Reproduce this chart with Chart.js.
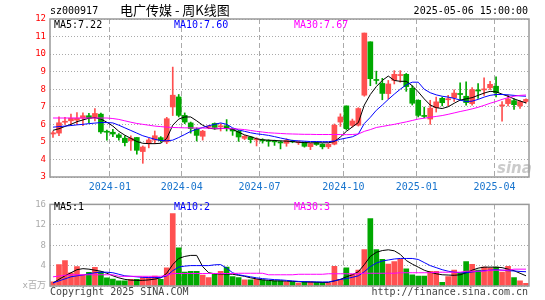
<!DOCTYPE html>
<html lang="zh-CN">
<head>
<meta charset="UTF-8">
<title>电广传媒 - 周K线图</title>
<script src="https://cdn.jsdelivr.net/npm/chart.js"></script>
<style>
  body { margin: 0; background: #fff; }
  #box { position: relative; width: 545px; height: 300px; overflow: hidden;
         font-family: "DejaVu Sans Mono", monospace; font-size: 10px; line-height: 1; }
  #box canvas { position: absolute; left: 0; }
  #kline { top: 0; }
  #vol { top: 195px; }
  .t { position: absolute; white-space: nowrap; }
</style>
</head>
<body>
<div id="box">
  <canvas id="kline" width="545" height="195"></canvas>
  <canvas id="vol" width="545" height="105"></canvas>

  <span class="t" style="left:50px;top:6px">sz000917</span>
  <span class="t" style="left:120px;top:3px;font-family:'Noto Sans CJK SC',sans-serif;font-size:13px">电广传媒 - 周K线图</span>
  <span class="t" style="right:17px;top:6px">2025-05-06 15:00:00</span>

  <span class="t" style="left:54px;top:19.5px;color:#000">MA5:7.22</span>
  <span class="t" style="left:174px;top:19.5px;color:#0000ff">MA10:7.60</span>
  <span class="t" style="left:294px;top:19.5px;color:#ff00ff">MA30:7.67</span>
  <span class="t" style="left:497px;top:159px;font:italic bold 15px 'DejaVu Sans',sans-serif;color:rgba(160,160,160,0.55)">sina</span>

  <span class="t" style="left:54px;top:202px;color:#000">MA5:1</span>
  <span class="t" style="left:174px;top:202px;color:#0000ff">MA10:2</span>
  <span class="t" style="left:294px;top:202px;color:#ff00ff">MA30:3</span>

  <span class="t" style="left:50px;top:286.5px;color:#444">Copyright 2025 SINA.COM</span>
  <span class="t" style="right:17px;top:286.5px;color:#444">http://finance.sina.com.cn</span>
</div>

<script>
  // weekly candles, oldest first (80 weeks up to 2025-05-06)
  const opens = [5.45,5.50,6.12,6.20,6.24,6.35,6.49,6.39,6.58,5.60,
    5.55,5.40,5.21,5.06,5.25,4.45,4.90,5.10,5.24,5.00,
    6.99,7.56,6.51,6.08,5.74,5.32,5.85,6.05,5.86,5.92,
    5.75,5.62,5.20,5.28,5.11,5.10,5.06,5.05,4.97,4.92,
    5.05,4.95,4.98,4.73,4.95,4.87,4.72,4.87,6.13,7.05,
    5.94,5.95,7.66,10.70,8.55,8.33,7.75,8.50,8.78,8.85,
    8.05,7.37,6.50,6.30,6.95,7.48,7.40,7.52,7.72,7.60,
    7.18,7.95,7.96,8.08,8.17,7.05,7.18,7.35,7.05,7.30];
  const closes = [5.52,6.09,6.15,6.35,6.35,6.49,6.36,6.62,5.57,5.55,
    5.45,5.25,4.96,5.21,4.52,4.71,5.11,5.35,5.08,6.32,
    7.66,6.51,6.13,5.76,5.37,5.61,5.87,5.82,5.90,5.75,
    5.62,5.28,5.32,5.13,5.14,5.06,5.03,5.00,4.94,5.08,
    5.00,5.00,4.75,4.90,4.85,4.72,4.87,5.95,6.42,5.75,
    6.19,6.90,11.20,8.60,8.50,7.76,8.30,8.85,8.82,8.15,
    7.20,6.51,6.45,6.92,7.28,7.23,7.45,7.78,7.70,7.24,
    7.98,7.90,8.00,8.28,7.80,7.10,7.45,7.12,7.30,7.42];
  const highs = [5.62,6.43,6.40,6.58,6.67,6.65,6.62,6.90,6.64,5.67,
    5.72,5.48,5.34,5.34,5.25,4.77,5.20,5.62,5.30,6.40,
    9.26,7.70,6.65,6.13,5.80,5.66,5.94,6.08,6.04,6.27,
    5.77,5.66,5.37,5.32,5.24,5.18,5.12,5.10,5.06,5.18,
    5.10,5.05,5.00,4.92,5.00,4.90,4.90,6.02,6.60,7.05,
    6.30,6.95,11.20,10.70,9.03,8.62,8.50,9.06,9.06,8.90,
    8.20,7.40,6.98,7.37,7.55,7.55,7.65,7.97,8.36,8.42,
    8.10,8.32,8.65,8.45,8.70,7.30,7.66,7.45,7.35,7.45];
  const lows = [5.25,5.35,6.00,6.00,6.00,5.92,6.10,6.20,5.48,5.10,
    5.30,5.10,4.77,4.52,4.30,3.78,4.66,4.90,4.98,4.90,
    6.50,6.42,6.04,5.50,5.05,5.10,5.75,5.72,5.62,5.62,
    5.37,5.03,5.13,4.94,4.77,4.93,4.75,4.80,4.60,4.75,
    4.95,4.85,4.70,4.56,4.80,4.60,4.62,4.83,5.88,5.68,
    5.85,5.90,7.60,8.20,8.30,7.40,7.45,8.30,8.40,7.88,
    7.10,6.42,6.37,6.00,6.70,7.05,7.05,7.30,7.37,7.09,
    7.09,7.47,7.65,7.98,7.56,6.18,7.05,6.85,6.90,7.20];

  const ma5 = [5.66,5.75,5.88,6.0,6.15,6.25,6.35,6.38,6.3,6.12,
    5.9,5.6,5.38,5.2,5.02,4.92,4.9,4.9,4.92,5.2,
    5.95,6.3,6.42,6.42,6.2,5.95,5.78,5.74,5.76,5.78,
    5.72,5.55,5.4,5.3,5.18,5.12,5.1,5.08,5.06,5.04,
    5.02,4.98,4.96,4.95,4.95,4.95,4.95,5.02,5.28,5.6,
    5.85,6.1,7.1,7.7,8.15,8.5,8.75,8.5,8.45,8.45,
    8.2,7.85,7.45,7.1,6.95,6.9,7.0,7.2,7.38,7.45,
    7.52,7.65,7.78,7.88,7.85,7.72,7.6,7.45,7.33,7.22];
  const ma10 = [5.84,5.87,5.9,5.93,5.97,6.0,6.04,6.07,6.1,6.1,
    6.08,5.95,5.8,5.65,5.5,5.35,5.25,5.15,5.08,5.06,
    5.1,5.25,5.42,5.6,5.72,5.82,5.92,6.0,6.08,6.0,
    5.8,5.68,5.6,5.52,5.46,5.42,5.37,5.3,5.22,5.15,
    5.08,5.06,5.04,5.02,5.02,5.01,5.01,5.05,5.15,5.22,
    5.29,5.45,6.05,6.4,6.8,7.1,7.42,7.72,8.0,8.25,
    8.4,8.4,8.0,7.8,7.68,7.6,7.55,7.48,7.38,7.3,
    7.32,7.42,7.55,7.65,7.7,7.7,7.68,7.65,7.62,7.6];
  const ma30 = [6.36,6.36,6.36,6.36,6.36,6.36,6.36,6.36,6.36,6.36,
    6.33,6.28,6.2,6.12,6.05,6.0,5.95,5.9,5.87,5.84,
    5.82,5.81,5.8,5.8,5.79,5.79,5.78,5.78,5.77,5.76,
    5.75,5.73,5.7,5.65,5.6,5.56,5.52,5.5,5.48,5.46,
    5.45,5.44,5.43,5.43,5.42,5.42,5.42,5.42,5.42,5.41,
    5.42,5.45,5.6,5.7,5.82,5.88,5.94,6.0,6.07,6.14,
    6.22,6.3,6.35,6.4,6.45,6.5,6.57,6.65,6.73,6.8,
    6.88,6.97,7.08,7.2,7.3,7.42,7.52,7.6,7.65,7.67];

  // volume, millions of shares
  const vols = [0.8,4.2,5.0,2.6,3.8,2.2,2.7,3.65,2.8,1.6,
    1.35,1.0,1.0,1.33,1.33,1.65,1.65,1.96,1.33,3.54,
    14.2,7.5,2.72,2.9,2.9,2.15,1.65,2.28,2.9,3.73,
    1.84,1.65,1.2,1.2,1.33,1.2,1.0,1.0,1.0,0.82,
    0.82,0.57,0.82,0.82,0.7,0.7,0.57,3.86,1.33,3.54,
    2.28,3.1,7.15,13.2,7.15,5.25,4.3,4.8,5.25,3.35,
    2.2,1.96,1.96,2.9,2.9,0.7,1.84,3.1,2.6,4.8,
    4.24,3.1,3.73,3.54,3.73,2.72,3.86,1.65,1.0,0.5];
  const vma5 = [0.6,1.3,2.0,2.6,3.2,3.4,3.3,3.1,2.9,2.5,
    2.0,1.6,1.3,1.15,1.1,1.1,1.2,1.35,1.6,2.5,
    4.2,5.4,5.8,6.0,6.0,3.8,2.6,2.4,2.35,2.35,
    2.3,2.1,1.9,1.6,1.4,1.2,1.1,1.0,1.0,0.95,
    0.9,0.85,0.8,0.78,0.75,0.7,0.7,1.0,1.3,1.8,
    2.2,2.8,4.2,5.8,6.6,6.95,7.1,6.9,6.2,5.0,
    4.3,3.7,3.1,2.7,2.4,2.2,2.15,2.1,2.2,2.6,
    3.1,3.5,3.7,3.7,3.7,3.6,3.3,3.0,2.5,2.0];
  const vma10 = [0.6,1.0,1.4,1.8,2.0,2.15,2.4,2.6,2.7,2.7,
    2.6,2.3,2.0,1.9,1.8,1.7,1.65,1.65,1.65,2.0,
    3.0,3.7,3.9,4.0,4.0,4.0,4.0,4.15,4.2,3.5,
    2.6,2.2,2.0,1.8,1.6,1.45,1.35,1.25,1.2,1.1,
    1.0,0.9,0.85,0.82,0.8,0.78,0.8,1.0,1.3,1.45,
    1.7,2.0,2.8,3.8,4.5,4.9,5.1,5.3,5.4,5.4,
    5.4,5.2,4.6,4.0,3.6,3.2,2.9,2.7,2.6,2.6,
    2.75,2.9,3.0,3.1,3.2,3.1,3.0,2.95,2.85,2.8];
  const vma30 = [1.8,1.95,2.1,2.2,2.2,2.2,2.2,2.2,2.2,2.2,
    2.2,1.9,1.9,1.9,1.9,1.9,1.9,1.9,1.9,2.1,
    2.45,2.45,2.45,2.45,2.45,2.45,2.45,2.45,2.45,2.45,
    2.45,2.5,2.5,2.5,2.5,2.5,2.2,2.2,2.2,2.2,
    2.2,2.3,2.3,2.3,2.3,2.3,2.4,2.4,2.4,2.4,
    2.4,2.4,2.5,2.5,2.5,2.5,2.5,2.5,2.6,2.6,
    2.6,2.6,2.6,2.6,2.7,2.7,2.7,2.7,2.7,2.9,
    2.9,2.9,2.9,3.1,3.1,3.1,3.1,3.3,3.3,3.3];

  // month ticks: week index where the dashed line sits
  const tickLabels = ['2024-01', '2024-04', '2024-07', '2024-10', '2025-01', '2025-04'];
  const tickPos = [9.5, 21.5, 34.5, 48.5, 60.75, 73.75];

  const RED = '#ff5050', GREEN = '#00a800';
  const colors = closes.map((c, i) => c >= opens[i] ? RED : GREEN);
  const pts = arr => arr.map((v, i) => ({ x: i, y: v }));
  const mono = { family: 'DejaVu Sans Mono', size: 9 };

  const frame = {
    id: 'frame',
    afterDraw(chart) {
      const { ctx, chartArea: a } = chart;
      ctx.save();
      ctx.strokeStyle = '#999';
      ctx.lineWidth = 1.5;
      ctx.strokeRect(a.left, a.top, a.right - a.left, a.bottom - a.top);
      ctx.restore();
    }
  };

  function xAxis(showLabels, height) {
    return {
      type: 'linear', min: -0.5, max: 79.5, offset: false, bounds: 'data',
      afterBuildTicks: s => { s.ticks = tickPos.map(v => ({ value: v })); },
      afterFit: s => { s.height = height; },
      grid: { color: '#aaa', drawTicks: false, offset: false },
      border: { display: false, dash: [5, 3] },
      ticks: {
        display: showLabels, autoSkip: false, maxRotation: 0, padding: 4,
        color: '#1874cd', font: { family: 'DejaVu Sans Mono', size: 10 },
        callback: (v, i) => tickLabels[i]
      }
    };
  }

  function maLine(arr, color) {
    return { type: 'line', data: pts(arr), borderColor: color, borderWidth: 1,
             pointRadius: 0, tension: 0, order: 0 };
  }

  const common = {
    responsive: false, animation: false, events: [],
    plugins: { legend: { display: false }, tooltip: { enabled: false } }
  };

  new Chart(document.getElementById('kline'), {
    type: 'bar',
    data: {
      datasets: [
        { data: closes.map((c, i) => ({ x: i, y: [lows[i], highs[i]] })),
          backgroundColor: colors, barThickness: 1, grouped: false, order: 3 },
        { data: closes.map((c, i) => ({ x: i, y: [Math.min(opens[i], c), Math.max(opens[i], c)] })),
          backgroundColor: colors, barThickness: 5, minBarLength: 1, grouped: false, order: 2 },
        maLine(ma30, '#ff00ff'),
        maLine(ma10, '#0000ff'),
        maLine(ma5, '#000000')
      ]
    },
    options: {
      ...common,
      layout: { padding: { top: 19, right: 16, bottom: 0, left: 0 } },
      scales: {
        x: xAxis(true, 18),
        y: {
          min: 3, max: 12,
          afterFit: s => { s.width = 50; },
          grid: { color: '#aaa', drawTicks: false },
          border: { display: false, dash: [1, 2] },
          ticks: { stepSize: 1, padding: 4, color: '#ff0000', font: mono }
        }
      }
    },
    plugins: [frame]
  });

  new Chart(document.getElementById('vol'), {
    type: 'bar',
    data: {
      datasets: [
        { data: pts(vols), backgroundColor: colors, barThickness: 5, grouped: false, order: 2 },
        maLine(vma30, '#ff00ff'),
        maLine(vma10, '#0000ff'),
        maLine(vma5, '#000000')
      ]
    },
    options: {
      ...common,
      layout: { padding: { top: 7, right: 16, bottom: 0, left: 0 } },
      scales: {
        x: xAxis(false, 14),
        y: {
          min: 0, max: 16,
          afterFit: s => { s.width = 50; },
          grid: { color: '#aaa', drawTicks: false },
          border: { display: false, dash: [1, 2] },
          ticks: { stepSize: 4, padding: 4, color: '#aaa', font: mono,
                   callback: v => v === 0 ? 'x百万' : v }
        }
      }
    },
    plugins: [frame]
  });
</script>
</body>
</html>
